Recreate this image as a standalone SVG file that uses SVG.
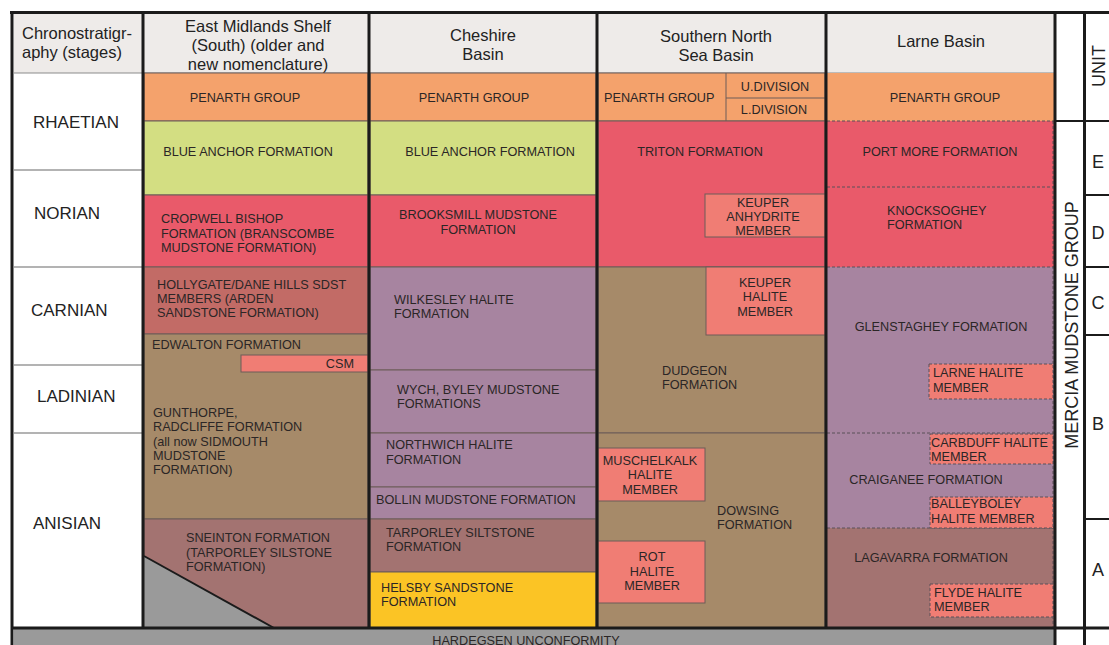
<svg xmlns="http://www.w3.org/2000/svg" width="1109" height="645" viewBox="0 0 1109 645">
<style>
.c{stroke:#6d5d58;stroke-width:1}
.hd{fill:#eeebe9}
.pen{fill:#f4a26c}
.ba{fill:#d3de82}
.red{fill:#e95a6a}
.hol{fill:#c26b66}
.br{fill:#a68a69}
.pur{fill:#a784a0}
.mau{fill:#a37371}
.sal{fill:#f07d74}
.yel{fill:#fbc425}
.gr{fill:#9a9a9a}
.dash{fill:none;stroke:#5a5058;stroke-width:1;stroke-dasharray:3 2}
.sald{fill:#f07d74;stroke:#5a5058;stroke-width:1;stroke-dasharray:3 2}
.thick{stroke:#1b1b1b;stroke-width:3;fill:none}
.med{stroke:#1b1b1b;stroke-width:2;fill:none}
.thin{stroke:#9a9a9a;stroke-width:1.5;fill:none}
text{font-family:"Liberation Sans",Arial,sans-serif;fill:#2b2626}
.f{font-size:12.7px}
.h{font-size:16.5px;fill:#222}
.s{font-size:17px;fill:#222}
.u{font-size:18px;fill:#222}
.m{text-anchor:middle}
</style>
<rect x="0" y="0" width="1109" height="645" fill="#ffffff"/>

<g id="header">
<rect class="hd" x="14" y="14" width="1040" height="59"/>
<line x1="14" y1="73" x2="1054" y2="73" stroke="#8b8b8b" stroke-width="1"/>
<text class="h" x="22" y="39">Chronostratigr-</text>
<text class="h" x="22" y="58">aphy (stages)</text>
<text class="h m" x="258" y="32">East Midlands Shelf</text>
<text class="h m" x="258" y="51">(South) (older and</text>
<text class="h m" x="258" y="70">new nomenclature)</text>
<text class="h m" x="483" y="41">Cheshire</text>
<text class="h m" x="483" y="60">Basin</text>
<text class="h m" x="716" y="42">Southern North</text>
<text class="h m" x="716" y="61">Sea Basin</text>
<text class="h m" x="941" y="47">Larne Basin</text>
</g>

<g id="stages">
<line class="thin" x1="14" y1="170" x2="142" y2="170"/>
<line class="thin" x1="14" y1="267" x2="142" y2="267"/>
<line class="thin" x1="14" y1="365" x2="142" y2="365"/>
<line class="thin" x1="14" y1="433" x2="142" y2="433"/>
<text class="s" x="33" y="128">RHAETIAN</text>
<text class="s" x="34" y="219">NORIAN</text>
<text class="s" x="31" y="316">CARNIAN</text>
<text class="s" x="37" y="402">LADINIAN</text>
<text class="s" x="33" y="529">ANISIAN</text>
</g>

<g id="east-midlands">
<rect class="c pen" x="144" y="73" width="224" height="48"/>
<rect class="c ba" x="144" y="121" width="224" height="74"/>
<rect class="c red" x="144" y="195" width="224" height="72"/>
<rect class="c hol" x="144" y="267" width="224" height="67"/>
<rect class="c br" x="144" y="334" width="224" height="185"/>
<rect class="c sal" x="241" y="355" width="127" height="17"/>
<rect class="c mau" x="144" y="519" width="224" height="109"/>
<polygon class="gr" points="144,556 274,628 144,628"/>
<line x1="144" y1="556" x2="274" y2="628" stroke="#1b1b1b" stroke-width="2"/>
<text class="f m" x="245" y="102">PENARTH GROUP</text>
<text class="f m" x="248" y="156">BLUE ANCHOR FORMATION</text>
<text class="f" x="161" y="223">CROPWELL BISHOP</text>
<text class="f" x="161" y="238">FORMATION (BRANSCOMBE</text>
<text class="f" x="161" y="252">MUDSTONE FORMATION)</text>
<text class="f" x="157" y="289">HOLLYGATE/DANE HILLS SDST</text>
<text class="f" x="157" y="303">MEMBERS (ARDEN</text>
<text class="f" x="157" y="317">SANDSTONE FORMATION)</text>
<text class="f" x="152" y="349">EDWALTON FORMATION</text>
<text class="f" x="354" y="368" text-anchor="end">CSM</text>
<text class="f" x="153" y="417">GUNTHORPE,</text>
<text class="f" x="153" y="431">RADCLIFFE FORMATION</text>
<text class="f" x="153" y="446">(all now SIDMOUTH</text>
<text class="f" x="153" y="460">MUDSTONE</text>
<text class="f" x="153" y="474">FORMATION)</text>
<text class="f" x="186" y="542">SNEINTON FORMATION</text>
<text class="f" x="186" y="557">(TARPORLEY SILSTONE</text>
<text class="f" x="186" y="571">FORMATION)</text>
</g>

<g id="cheshire">
<rect class="c pen" x="370" y="73" width="226" height="48"/>
<rect class="c ba" x="370" y="121" width="226" height="74"/>
<rect class="c red" x="370" y="195" width="226" height="72"/>
<rect class="c pur" x="370" y="267" width="226" height="103"/>
<rect class="c pur" x="370" y="370" width="226" height="63"/>
<rect class="c pur" x="370" y="433" width="226" height="54"/>
<rect class="c pur" x="370" y="487" width="226" height="32"/>
<rect class="c mau" x="370" y="519" width="226" height="53"/>
<rect class="c yel" x="370" y="572" width="226" height="56"/>
<text class="f m" x="474" y="102">PENARTH GROUP</text>
<text class="f m" x="490" y="156">BLUE ANCHOR FORMATION</text>
<text class="f m" x="478" y="219">BROOKSMILL MUDSTONE</text>
<text class="f m" x="478" y="234">FORMATION</text>
<text class="f" x="394" y="304">WILKESLEY HALITE</text>
<text class="f" x="394" y="318">FORMATION</text>
<text class="f" x="397" y="394">WYCH, BYLEY MUDSTONE</text>
<text class="f" x="397" y="408">FORMATIONS</text>
<text class="f" x="386" y="449">NORTHWICH HALITE</text>
<text class="f" x="386" y="464">FORMATION</text>
<text class="f" x="376" y="504">BOLLIN MUDSTONE FORMATION</text>
<text class="f" x="386" y="537">TARPORLEY SILTSTONE</text>
<text class="f" x="386" y="551">FORMATION</text>
<text class="f" x="381" y="592">HELSBY SANDSTONE</text>
<text class="f" x="381" y="606">FORMATION</text>
</g>

<g id="southern-north-sea">
<rect class="c pen" x="598" y="73" width="227" height="48"/>
<line class="c" x1="726" y1="73" x2="726" y2="121"/>
<line class="c" x1="726" y1="98" x2="825" y2="98"/>
<rect class="c red" x="598" y="121" width="227" height="146"/>
<rect class="c sal" x="705" y="194" width="120" height="43"/>
<rect class="c br" x="598" y="267" width="227" height="166"/>
<rect class="c sal" x="706" y="267" width="119" height="68"/>
<rect class="c br" x="598" y="433" width="227" height="195"/>
<rect class="c sal" x="598" y="448" width="107" height="53"/>
<rect class="c sal" x="598" y="541" width="107" height="62"/>
<text class="f" x="604" y="102">PENARTH GROUP</text>
<text class="f m" x="775" y="91">U.DIVISION</text>
<text class="f m" x="774" y="114">L.DIVISION</text>
<text class="f m" x="700" y="156">TRITON FORMATION</text>
<text class="f m" x="763" y="207">KEUPER</text>
<text class="f m" x="763" y="221">ANHYDRITE</text>
<text class="f m" x="763" y="235">MEMBER</text>
<text class="f m" x="765" y="287">KEUPER</text>
<text class="f m" x="765" y="301">HALITE</text>
<text class="f m" x="765" y="316">MEMBER</text>
<text class="f" x="662" y="375">DUDGEON</text>
<text class="f" x="662" y="389">FORMATION</text>
<text class="f m" x="650" y="465">MUSCHELKALK</text>
<text class="f m" x="650" y="479">HALITE</text>
<text class="f m" x="650" y="494">MEMBER</text>
<text class="f" x="717" y="515">DOWSING</text>
<text class="f" x="717" y="529">FORMATION</text>
<text class="f m" x="652" y="561">ROT</text>
<text class="f m" x="652" y="576">HALITE</text>
<text class="f m" x="652" y="590">MEMBER</text>
</g>

<g id="larne">
<rect class="pen" x="827" y="73" width="227" height="48"/>
<rect class="red" x="827" y="121" width="227" height="146"/>
<rect class="pur" x="827" y="267" width="227" height="261"/>
<rect class="mau" x="827" y="528" width="227" height="100"/>
<line class="dash" x1="827" y1="121" x2="1054" y2="121"/>
<line class="dash" x1="827" y1="187" x2="1054" y2="187"/>
<line class="dash" x1="827" y1="267" x2="1054" y2="267"/>
<line class="dash" x1="827" y1="433" x2="1054" y2="433"/>
<line class="dash" x1="827" y1="528" x2="1054" y2="528"/>
<line class="dash" x1="1053" y1="121" x2="1053" y2="628"/>
<rect class="sald" x="929" y="364" width="124" height="35"/>
<rect class="sald" x="930" y="434" width="123" height="30"/>
<rect class="sald" x="930" y="497" width="123" height="31"/>
<rect class="sald" x="930" y="584" width="123" height="33"/>
<text class="f m" x="945" y="102">PENARTH GROUP</text>
<text class="f m" x="940" y="156">PORT MORE FORMATION</text>
<text class="f" x="887" y="215">KNOCKSOGHEY</text>
<text class="f" x="887" y="229">FORMATION</text>
<text class="f m" x="941" y="331">GLENSTAGHEY FORMATION</text>
<text class="f" x="933" y="377">LARNE HALITE</text>
<text class="f" x="933" y="392">MEMBER</text>
<text class="f" x="931" y="447">CARBDUFF HALITE</text>
<text class="f" x="931" y="461">MEMBER</text>
<text class="f m" x="926" y="484">CRAIGANEE FORMATION</text>
<text class="f" x="931" y="508">BALLEYBOLEY</text>
<text class="f" x="931" y="523">HALITE MEMBER</text>
<text class="f m" x="931" y="562">LAGAVARRA FORMATION</text>
<text class="f" x="934" y="597">FLYDE HALITE</text>
<text class="f" x="934" y="611">MEMBER</text>
</g>

<g id="hardegsen">
<rect class="gr" x="14" y="628" width="1040" height="17"/>
<text class="f m" x="526" y="644.5">HARDEGSEN UNCONFORMITY</text>
</g>

<g id="mercia">
<text class="u m" transform="translate(1078,325) rotate(-90)">MERCIA MUDSTONE GROUP</text>
</g>

<g id="units">
<text class="u m" transform="translate(1105,66) rotate(-90)">UNIT</text>
<text class="u m" x="1098" y="168">E</text>
<text class="u m" x="1098" y="239">D</text>
<text class="u m" x="1098" y="309">C</text>
<text class="u m" x="1098" y="430">B</text>
<text class="u m" x="1098" y="576">A</text>
</g>

<g id="frame">
<line class="thick" x1="10" y1="12.5" x2="1109" y2="12.5"/>
<line class="thick" x1="12" y1="11" x2="12" y2="645"/>
<line class="thick" x1="143" y1="11" x2="143" y2="628"/>
<line class="thick" x1="369" y1="11" x2="369" y2="628"/>
<line class="thick" x1="597" y1="11" x2="597" y2="628"/>
<line class="thick" x1="826" y1="11" x2="826" y2="628"/>
<line class="thick" x1="1055" y1="11" x2="1055" y2="645"/>
<line class="thick" x1="1084.5" y1="11" x2="1084.5" y2="645"/>
<line class="thick" x1="11" y1="628" x2="1109" y2="628"/>
<line class="med" x1="1055" y1="121" x2="1109" y2="121"/>
<line class="med" x1="1084" y1="195" x2="1109" y2="195"/>
<line class="med" x1="1084" y1="267" x2="1109" y2="267"/>
<line class="med" x1="1084" y1="335" x2="1109" y2="335"/>
<line class="med" x1="1084" y1="519" x2="1109" y2="519"/>
</g>
</svg>
